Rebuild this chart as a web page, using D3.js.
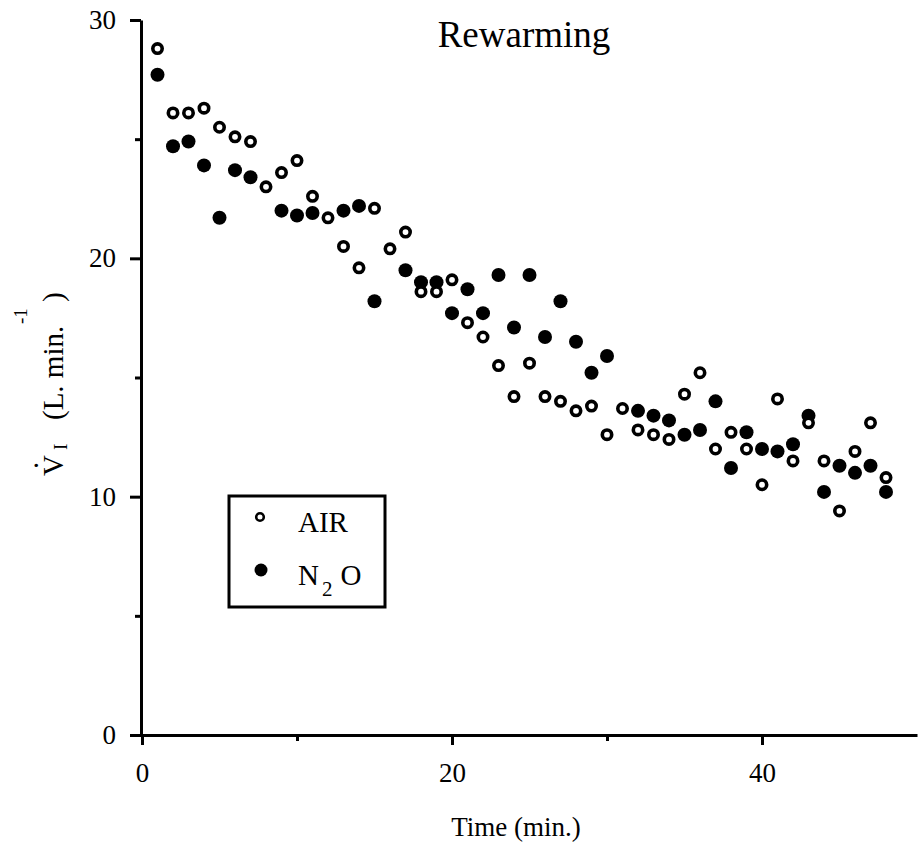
<!DOCTYPE html>
<html>
<head>
<meta charset="utf-8">
<title>Rewarming</title>
<script src="https://cdn.jsdelivr.net/npm/d3@7/dist/d3.min.js"></script>
<style>
  body { margin: 0; background: #fff; }
  svg { display: block; font-family: "Liberation Serif", "DejaVu Serif", serif; }
  .axis path, .axis line { stroke: #000; stroke-width: 3px; }
  .axis text { font-size: 27px; fill: #000; font-family: "Liberation Serif", serif; }
</style>
</head>
<body>
<svg id="chart" width="918" height="849"></svg>
<script>
// minutes of rewarming
const airTime = [1,2,3,4,5,6,7,8,9,10,11,12,13,14,15,16,17,18,19,20,21,22,23,24,25,26,27,28,29,30,31,32,33,34,35,36,37,38,39,40,41,42,43,44,45,46,47,48];
const airVal  = [28.8,26.1,26.1,26.3,25.5,25.1,24.9,23.0,23.6,24.1,22.6,21.7,20.5,19.6,22.1,20.4,21.1,18.6,18.6,19.1,17.3,16.7,15.5,14.2,15.6,14.2,14.0,13.6,13.8,12.6,13.7,12.8,12.6,12.4,14.3,15.2,12.0,12.7,12.0,10.5,14.1,11.5,13.1,11.5,9.4,11.9,13.1,10.8];

const n2oTime = [1,2,3,4,5,6,7,9,10,11,13,14,15,17,18,19,20,21,22,23,24,25,26,27,28,29,30,32,33,34,35,36,37,38,39,40,41,42,43,44,45,46,47,48];
const n2oVal  = [27.7,24.7,24.9,23.9,21.7,23.7,23.4,22.0,21.8,21.9,22.0,22.2,18.2,19.5,19.0,19.0,17.7,18.7,17.7,19.3,17.1,19.3,16.7,18.2,16.5,15.2,15.9,13.6,13.4,13.2,12.6,12.8,14.0,11.2,12.7,12.0,11.9,12.2,13.4,10.2,11.3,11.0,11.3,10.2];

const xMajor = [0, 20, 40];
const xMinor = [10, 30];
const yMajor = [0, 10, 20, 30];
const yMinor = [5, 15, 25];

const svg = d3.select("#chart");
const x = d3.scaleLinear().domain([0, 50]).range([142, 917]);
const y = d3.scaleLinear().domain([0, 30]).range([735, 20]);

// axes
svg.append("g").attr("class", "axis")
   .attr("transform", "translate(141,0)")
   .call(d3.axisLeft(y).tickValues(yMajor).tickSize(11).tickSizeOuter(0).tickPadding(14).tickFormat(d3.format("d")));
svg.append("g").attr("class", "axis")
   .attr("transform", "translate(141,0)")
   .call(d3.axisLeft(y).tickValues(yMinor).tickSize(6).tickSizeOuter(0).tickFormat(""))
   .select(".domain").remove();

svg.append("g").attr("class", "axis")
   .attr("transform", "translate(0,735)")
   .call(d3.axisBottom(x).tickValues(xMajor).tickSize(10).tickSizeOuter(0).tickPadding(18).tickFormat(d3.format("d")));
svg.append("g").attr("class", "axis")
   .attr("transform", "translate(0,735)")
   .call(d3.axisBottom(x).tickValues(xMinor).tickSize(6).tickSizeOuter(0).tickFormat(""))
   .select(".domain").remove();
svg.selectAll(".axis .tick line").attr("stroke-width", 2.5);

// points
const air = airTime.map((t, i) => ({t: t, v: airVal[i]}));
const n2o = n2oTime.map((t, i) => ({t: t, v: n2oVal[i]}));

svg.append("g").selectAll("circle").data(n2o).join("circle")
   .attr("cx", d => x(d.t)).attr("cy", d => y(d.v))
   .attr("r", 7).attr("fill", "#000");

svg.append("g").selectAll("circle").data(air).join("circle")
   .attr("cx", d => x(d.t)).attr("cy", d => y(d.v))
   .attr("r", 4.7).attr("fill", "#fff").attr("stroke", "#000").attr("stroke-width", 3.6);

// title
svg.append("text").attr("x", 524).attr("y", 47)
   .attr("text-anchor", "middle").attr("font-size", 37).text("Rewarming");

// x label
svg.append("text").attr("x", 516).attr("y", 836)
   .attr("text-anchor", "middle").attr("font-size", 27).text("Time (min.)");

// y label, laid out along the rotated baseline
const yl = svg.append("text")
   .attr("transform", "translate(63,476) rotate(-90)")
   .attr("font-size", 29);
yl.append("tspan").attr("x", 0).text("V");
yl.append("tspan").attr("x", 7).attr("dy", -25).text(".");
yl.append("tspan").attr("x", 26).attr("dy", 29).attr("font-size", 19).text("I");
yl.append("tspan").attr("x", 56).attr("dy", -4).text("(L. min.");
yl.append("tspan").attr("x", 152).attr("dy", -36).attr("font-size", 19).text("-1");
yl.append("tspan").attr("x", 174).attr("dy", 36).text(")");

// legend
const lg = svg.append("g");
lg.append("rect").attr("x", 229).attr("y", 496).attr("width", 156).attr("height", 111)
  .attr("fill", "none").attr("stroke", "#000").attr("stroke-width", 3);
lg.append("circle").attr("cx", 260).attr("cy", 517).attr("r", 3.8)
  .attr("fill", "#fff").attr("stroke", "#000").attr("stroke-width", 2.6);
lg.append("circle").attr("cx", 261).attr("cy", 570).attr("r", 6.5).attr("fill", "#000");
lg.append("text").attr("x", 298).attr("y", 532).attr("font-size", 29).text("AIR");
const nt = lg.append("text").attr("x", 298).attr("y", 585).attr("font-size", 29);
nt.append("tspan").text("N");
nt.append("tspan").attr("font-size", 21).attr("dy", 11).attr("dx", 3).text("2");
nt.append("tspan").attr("dy", -11).attr("dx", 8).text("O");
</script>
</body>
</html>
